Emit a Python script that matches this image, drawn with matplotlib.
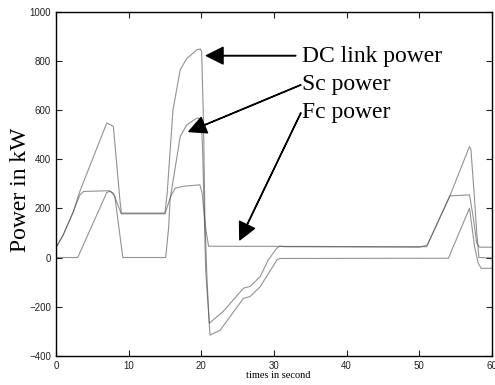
import numpy as np
import matplotlib
matplotlib.use("Agg")
import matplotlib.pyplot as plt

# valores (tempo em s, potência em kW)
t_dc = [0, 0.08, 1.0, 2.4, 2.9, 3.3, 5.0, 7.0, 7.9, 8.3, 8.8, 9.0, 15.0, 15.3, 16.1, 17.1, 18.0,
        19.4, 19.9, 20.05, 20.3, 20.5, 20.8, 21.1, 21.6, 23.0, 25.8, 26.7, 28.1, 29.2, 30.4, 30.8,
        31.5, 50.0, 51.1, 54.2, 56.9, 57.1, 57.6, 57.9, 58.2, 60]
p_dc = [-400, 44, 92, 187, 235, 270, 398, 548, 534, 400, 235, 181, 181, 260, 600, 765, 810,
        846, 849, 835, 560, 153, -100, -268, -255, -220, -125, -118, -78, -10, 38, 46,
        44, 42, 51, 251, 452, 438, 235, 99, 0, -2]

t_sc = [0, 3.0, 7.0, 7.5, 8.1, 9.2, 15.1, 15.5, 15.7, 17.1, 18.0, 19.4, 20.0, 20.2, 20.6, 21.2,
        21.6, 22.6, 25.8, 26.7, 28.1, 30.4, 30.8, 54.0, 56.9, 57.6, 58.1, 58.5, 60]
p_sc = [0, 0, 265, 270, 250, 0, 0, 120, 235, 493, 540, 568, 564, 420, -50, -316,
        -310, -296, -166, -159, -119, -10, -4, -3, 201, 44, -23, -44, -44]

t_fc = [0, 0.08, 1.0, 2.4, 3.3, 3.8, 7.3, 7.9, 9.0, 15.0, 15.8, 16.4, 17.5, 19.8, 20.1, 20.6,
        21.0, 51.0, 51.1, 54.2, 56.9, 57.4, 57.9, 58.3, 60]
p_fc = [-400, 44, 92, 187, 255, 269, 272, 262, 178, 178, 250, 282, 290, 296, 265, 120,
        46, 44, 51, 251, 255, 167, 58, 42, 42]

labels = ["DC link power", "Sc power", "Fc power"]

fig = plt.figure(figsize=(4.95, 3.85), dpi=100)
ax = fig.add_axes([0.113, 0.076, 0.881, 0.893])

for t, p in [(t_dc, p_dc), (t_sc, p_sc), (t_fc, p_fc)]:
    ax.plot(t, p, color='#4a4a4a', lw=0.8, alpha=0.6)

ax.set_xlim(0, 60)
ax.set_ylim(-400, 1000)
ax.set_xticks(np.arange(0, 61, 10))
ax.set_yticks(np.arange(-400, 1001, 200))
ax.tick_params(direction='in', length=4, width=0.8, top=True, right=True,
               labelsize=7, colors='#222222')
for lb in ax.get_xticklabels() + ax.get_yticklabels():
    lb.set_family('Liberation Sans')
for s in ax.spines.values():
    s.set_linewidth(1.0)

ax.set_xlabel("times in second", family='Liberation Serif', fontsize=7.5)
ax.xaxis.set_label_coords(0.509, -0.045)
ax.set_ylabel("Power in kW", family='Liberation Serif', fontsize=17)
ax.yaxis.set_label_coords(-0.058, 0.482)

# textos e setas
txt_y = [820, 703, 589]
tips = [(20.7, 822), (18.3, 513), (25.3, 72)]
starts = [(33.0, 822), (33.7, 703), (33.7, 589)]
for lab, ty in zip(labels, txt_y):
    ax.text(33.8, ty, lab, family='Liberation Serif', fontsize=17, va='center', ha='left')
for tip, st in zip(tips, starts):
    ax.annotate('', xy=tip, xytext=st,
                arrowprops=dict(facecolor='black', edgecolor='black', width=0.3,
                                headwidth=12, headlength=12, shrink=0))

fig.savefig("out.png", dpi=100)
